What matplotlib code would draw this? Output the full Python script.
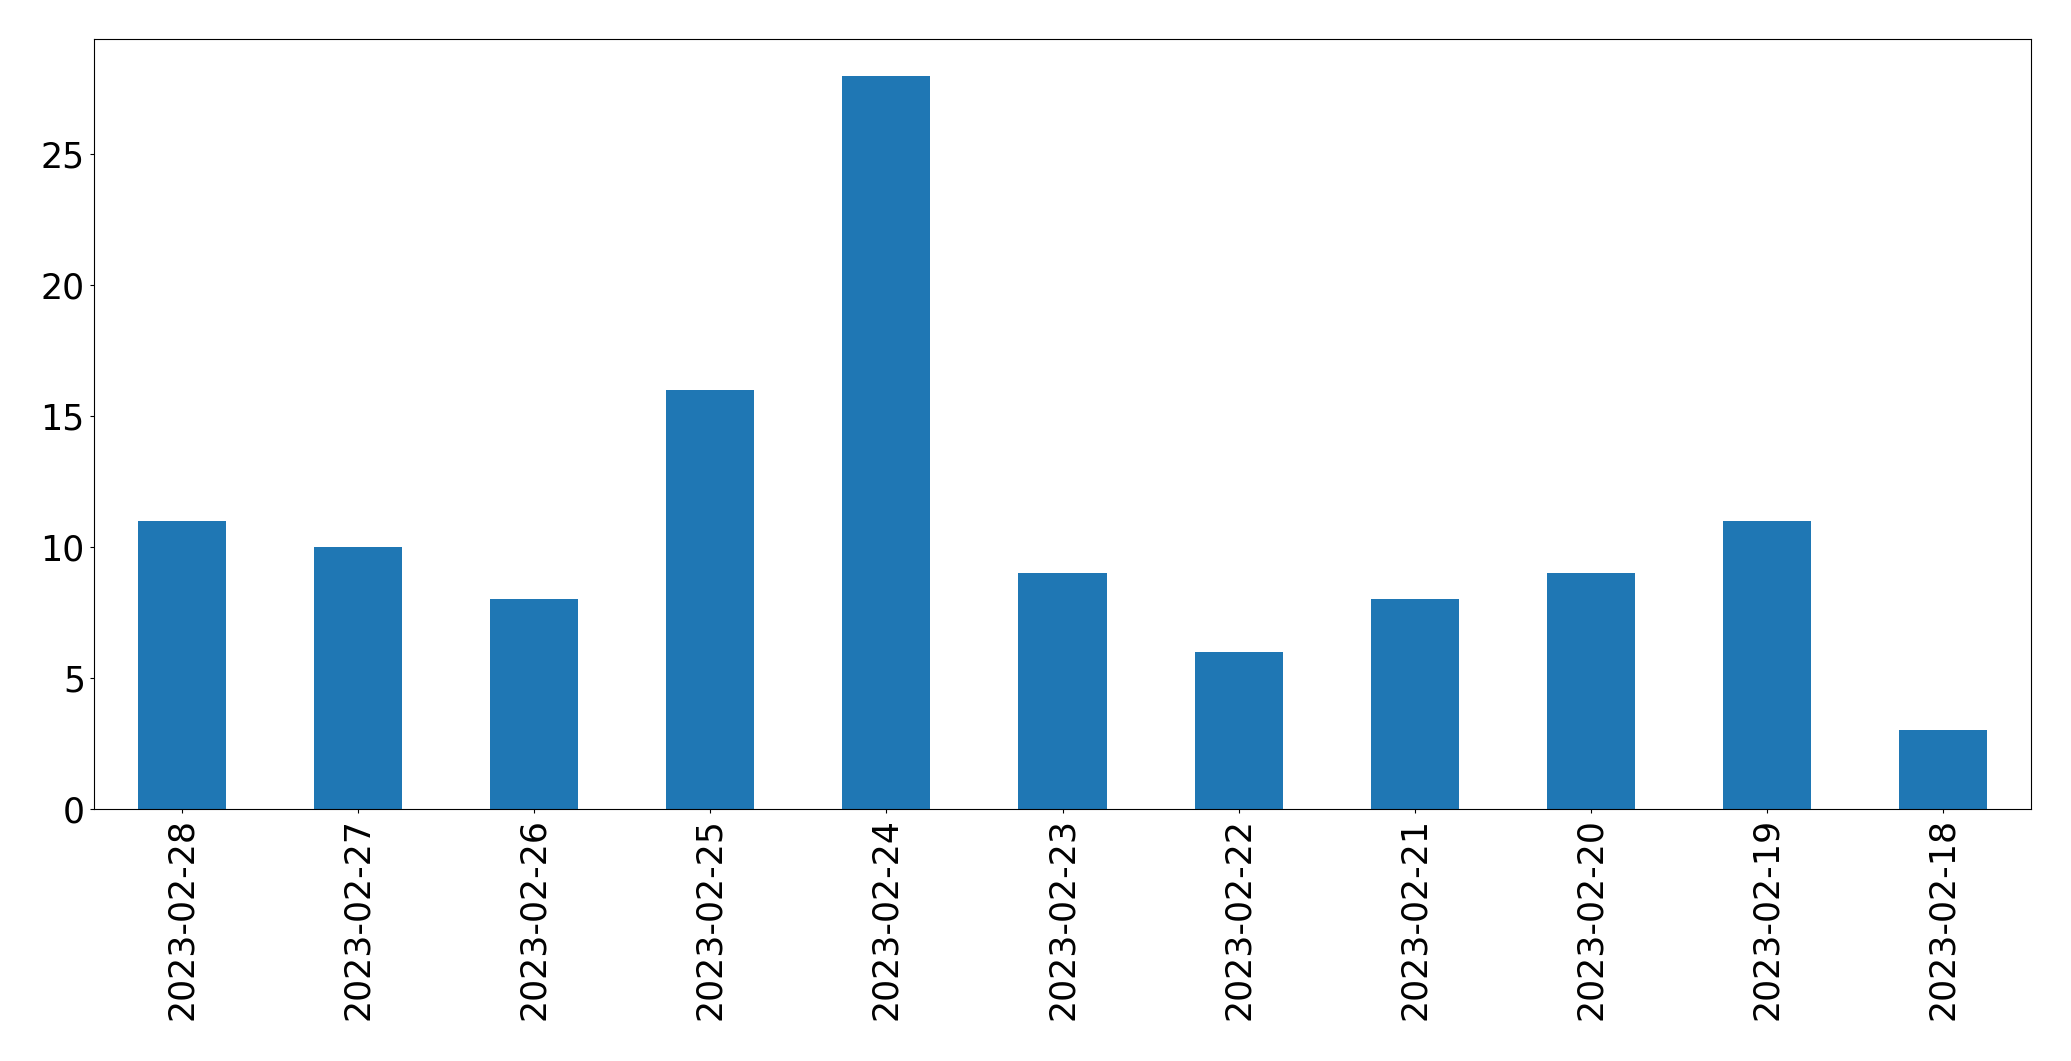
import matplotlib
matplotlib.use("Agg")
import matplotlib.pyplot as plt

dates = ["2023-02-28", "2023-02-27", "2023-02-26", "2023-02-25", "2023-02-24",
         "2023-02-23", "2023-02-22", "2023-02-21", "2023-02-20", "2023-02-19",
         "2023-02-18"]
counts = [11, 10, 8, 16, 28, 9, 6, 8, 9, 11, 3]

fig = plt.figure(figsize=(20.71, 10.61), dpi=100)
ax = fig.add_axes([94/2071, 1 - 809/1061, (2031 - 94)/2071, (809 - 39)/1061])
x = list(range(len(dates)))
ax.bar(x, counts, width=0.5, color="#1f77b4")
ax.set_xlim(-0.5, len(dates) - 0.5)
ax.set_ylim(0, max(counts) * 1.05)
ax.set_xticks(x)
ax.set_xticklabels(dates, rotation=90, fontsize=25)
ax.set_yticks([0, 5, 10, 15, 20, 25])
ax.tick_params(axis="y", labelsize=25)
ax.tick_params(length=4.3 * 72 / 100)
fig.savefig("out.png", dpi=100)
